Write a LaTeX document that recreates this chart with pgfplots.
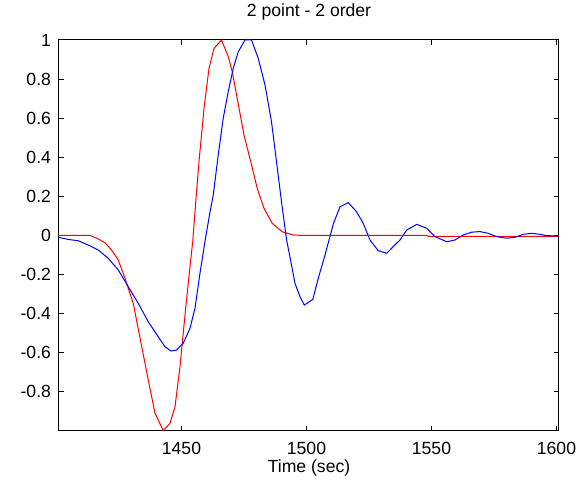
\documentclass[border=0pt]{standalone}
\usepackage{pgfplots}
\pgfplotsset{compat=1.18}
\usepackage{fontspec}
\setmainfont{Liberation Sans}

\pgfplotstableread{
t y
1401 0
1413.4 0
1416.1 -0.014
1419.4 -0.037
1422 -0.074
1424.7 -0.125
1427.4 -0.219
1430.7 -0.347
1434.1 -0.569
1436.7 -0.739
1439.4 -0.909
1442.7 -0.998
1445.4 -0.961
1447.4 -0.876
1449.4 -0.671
1450.7 -0.499
1452 -0.33
1453.4 -0.16
1454.5 -0.03
1455.7 0.173
1457 0.378
1459 0.65
1461 0.855
1463 0.957
1466 1.0
1468.7 0.915
1470.3 0.838
1472.3 0.70
1475 0.514
1477.7 0.378
1480.3 0.241
1483 0.139
1486.3 0.062
1490.3 0.019
1495 0.002
1500 0
1548 0
1549 -0.005
1601 -0.005
}\redcurve

\pgfplotstableread{
t y
1401 -0.01
1404.7 -0.02
1408.7 -0.027
1412.7 -0.049
1416.7 -0.074
1420.7 -0.117
1424.7 -0.176
1428.7 -0.262
1432.7 -0.347
1436.7 -0.441
1440.7 -0.518
1443.4 -0.569
1445.8 -0.591
1448 -0.586
1450.7 -0.551
1453.4 -0.475
1455.4 -0.372
1457.4 -0.193
1459.4 -0.03
1461.4 0.12
1462.7 0.207
1464.7 0.412
1466.7 0.60
1468.7 0.736
1470.7 0.855
1472.7 0.94
1475.4 1.0
1478 1.0
1480.7 0.906
1483.4 0.77
1486 0.582
1488 0.378
1490 0.173
1492 -0.02
1493.4 -0.111
1495.4 -0.245
1497.4 -0.313
1499.1 -0.356
1502.5 -0.327
1504.7 -0.22
1507.4 -0.1
1510.8 0.062
1513.4 0.147
1516.7 0.168
1520 0.122
1522.7 0.062
1525.4 -0.023
1528.7 -0.078
1532.1 -0.091
1534.7 -0.057
1537.4 -0.023
1540.1 0.028
1544.1 0.057
1548.1 0.037
1551.4 -0.006
1556.1 -0.032
1559.4 -0.023
1562.7 0.003
1566.1 0.017
1569.4 0.02
1572.7 0.011
1576.1 -0.006
1580.1 -0.014
1583.4 -0.009
1586.7 0.006
1590.1 0.011
1593.4 0.006
1596.1 -0.001
1601 -0.002
}\bluecurve

\begin{document}
\begin{tikzpicture}
\useasboundingbox (-29.5pt,-25pt) rectangle (263pt,215.5pt);
\begin{axis}[
    scale only axis,
    width=250pt,
    height=195.5pt,
    xmin=1401, xmax=1601,
    ymin=-1, ymax=1,
    xtick={1450,1500,1550,1600},
    ytick={-0.8,-0.6,-0.4,-0.2,0,0.2,0.4,0.6,0.8,1},
    tick align=inside,
    major tick length=2.5pt,
    tick style={black, line width=0.5pt},
    axis line style={black, line width=0.5pt},
    /pgf/number format/1000 sep={},
    /pgf/number format/assume math mode=true,
    font=\fontsize{8.8}{10}\selectfont,
    ticklabel style={font=\fontsize{8.8}{10}\selectfont},
    xticklabel style={anchor=base, yshift=-11.6pt},
    yticklabel style={xshift=-0.5pt},
    title={2 point - 2 order},
    title style={at={(axis description cs:0.5,1)}, anchor=base, yshift=5.9pt},
    xlabel={Time (sec)},
    xlabel style={at={(axis description cs:0.5,0)}, anchor=base, yshift=-21pt},
]
\addplot[red, line width=0.5pt] table[x=t, y=y] {\redcurve};
\addplot[blue, line width=0.5pt] table[x=t, y=y] {\bluecurve};
\end{axis}
\end{tikzpicture}
\end{document}
